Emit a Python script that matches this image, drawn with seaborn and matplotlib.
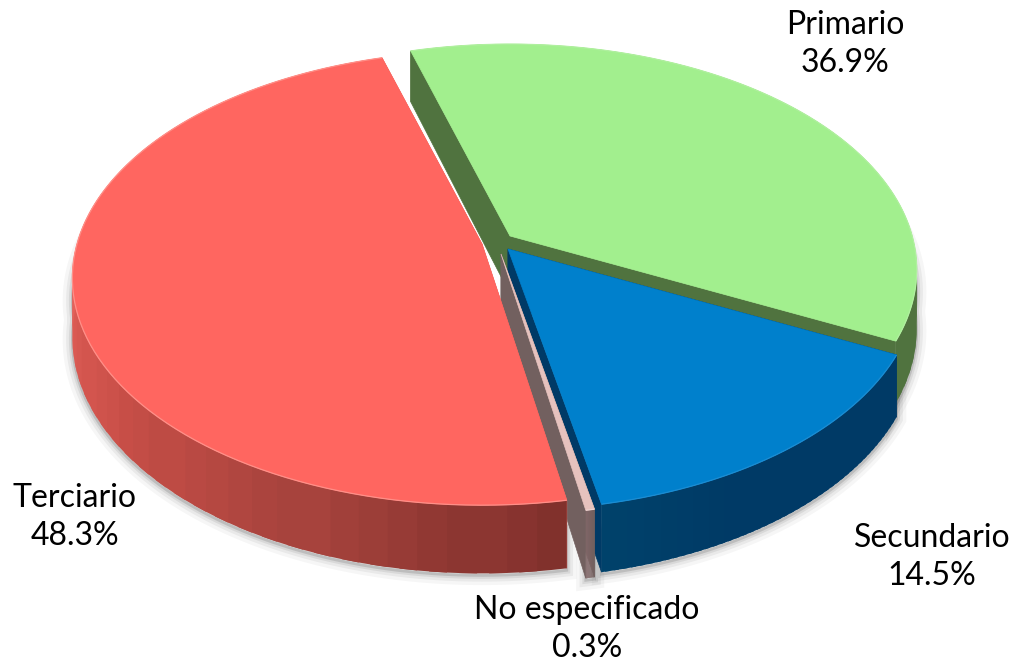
import numpy as np
import matplotlib
matplotlib.use("Agg")
import matplotlib.pyplot as plt
from matplotlib.patches import Polygon
import seaborn as sns

sns.set_theme(style="white")
plt.rcParams['font.family'] = ['Lato', 'DejaVu Sans']

# data
categories = ["Primario", "Secundario", "No especificado", "Terciario"]
shares = [36.9, 14.5, 0.3, 48.3]

# styling / layout per slice
top_colors = ["#A2EF8E", "#0080CC", "#E6C2BE", "#FF6660"]
edge_colors = ["#B0F09F", "#1B8CD2", "#EFD5D2", "#FF8F88"]
wall_ramps = [["#50733F", "#50733F"],
              ["#003A66", "#003A66", "#003A66", "#00426B"],
              ["#72605F", "#85696A"],
              ["#E4615A", "#C94F48", "#A5423C", "#7C2E2A"]]
apex_x = [510, 508, 501, 482]
apex_y = [236, 249, 254, 244]
radius = [0.993, 1.0, 1.0, 1.0]
label_pos = [(845, 44), (932, 557), (587, 629), (75, 517)]

RX, RY, K, H = 405.0, 222.0, 0.15, 58.0
START = -16.4
EDGE_SHADOW = "#000000"


def project(theta_deg, i, z=0.0):
    t = np.radians(theta_deg)
    u, v = radius[i] * np.sin(t), radius[i] * np.cos(t)
    d = 1 + K * v
    return apex_x[i] + RX * u / d, apex_y[i] - RY * v / d + z * H / d


fig = plt.figure(figsize=(10.15, 6.63), dpi=100)
ax = fig.add_axes([0, 0, 1, 1])
ax.set_xlim(0, 1015)
ax.set_ylim(663, 0)
ax.axis("off")

angles = START + np.concatenate([[0], np.cumsum(shares)]) * 3.6


def poly(xs, ys, color, z, lw=0.5):
    ax.add_patch(Polygon(np.column_stack([xs, ys]), closed=True, facecolor=color,
                         edgecolor=color, linewidth=lw, zorder=z))


# soft shadow under the outer walls
for i in range(len(shares)):
    a = np.linspace(angles[i], angles[i + 1], 120)
    a = a[(np.mod(a, 360) > 75) & (np.mod(a, 360) < 290)]
    if len(a) < 2:
        continue
    x0, y0 = project(a, i, 0.35)
    x1, y1 = project(a[::-1], i, 1.0)
    xs, ys = np.r_[x0, x1], np.r_[y0, y1]
    for lw, al in [(14, 0.035), (9, 0.05), (5, 0.07), (2, 0.12)]:
        ax.add_patch(Polygon(np.column_stack([xs, ys + 2]), closed=True, fill=False,
                             edgecolor=EDGE_SHADOW, alpha=al, linewidth=lw, zorder=1))

for i in range(len(shares)):
    z = 10 + i * 10
    a0, a1 = angles[i], angles[i + 1]
    ramp = sns.blend_palette(wall_ramps[i], 24)
    # radial walls
    for ang in (a1, a0):
        ox, oy = project(ang, i)
        bx, by = project(ang, i, 1.0)
        px, py = apex_x[i], apex_y[i]
        poly([px, ox, bx, px], [py, oy, by, py + H], wall_ramps[i][0], z)
    # outer wall, in overlapping vertical bands so no seams show
    edges = np.linspace(a0, a1, 49)
    step = edges[1] - edges[0]
    for j in range(48):
        mid = 0.5 * (edges[j] + edges[j + 1])
        if i == 3:
            frac = np.clip((270 - np.mod(mid, 360)) / 100.0, 0, 1)
        elif i == 1:
            frac = np.clip((mid - 116) / 52.0, 0, 1)
        else:
            frac = j / 48
        c = ramp[int(frac * 23)]
        seg_end = edges[j + 1] + (step * 0.6 if j < 47 else 0)
        seg = np.linspace(edges[j], seg_end, 4)
        tx, ty = project(seg, i)
        bx, by = project(seg[::-1], i, 1.0)
        poly(np.r_[tx, bx], np.r_[ty, by], c, z + 1, lw=0)
    # top face
    arc = np.linspace(a0, a1, 200)
    ax_, ay_ = project(arc, i)
    poly(np.r_[apex_x[i], ax_], np.r_[apex_y[i], ay_], top_colors[i], z + 2)
    ax.plot(ax_, ay_, color=edge_colors[i], lw=0.9, zorder=z + 3, solid_capstyle="butt")

for name, share, (lx, ly) in zip(categories, shares, label_pos):
    ax.text(lx, ly, f"{name}\n{share:.1f}%", ha="center", va="center", fontsize=23,
            color="black", linespacing=1.3, zorder=100)

fig.savefig("out.png", dpi=100)
